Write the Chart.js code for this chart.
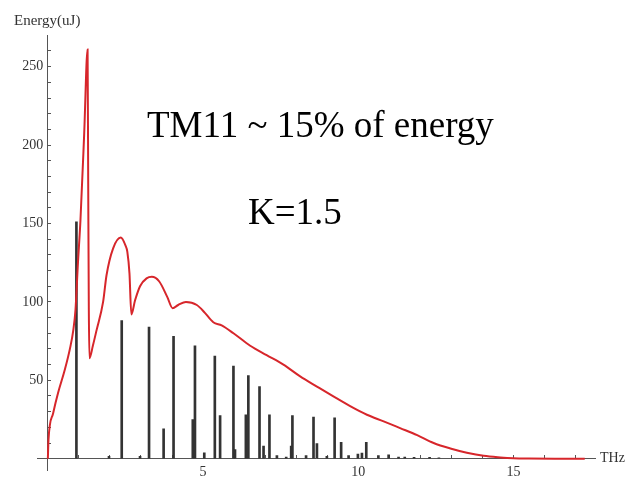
<!DOCTYPE html>
<html>
<head>
<meta charset="utf-8">
<script src="https://cdn.jsdelivr.net/npm/chart.js@4/dist/chart.umd.min.js"></script>
<style>
html,body{margin:0;padding:0;background:#fff;}
#wrap{position:relative;width:626px;height:485px;}
</style>
</head>
<body>
<div id="wrap"><canvas id="c" width="626" height="485"></canvas></div>
<script>
// Red curve: total energy spectrum (THz, uJ)
const curveFreq = [0, 0.02, 0.17, 0.33, 0.55, 0.71, 0.82, 0.89, 0.97, 1.05, 1.17, 1.28, 1.30, 1.32, 1.34, 1.45, 1.57, 1.78, 1.89, 2.1, 2.35, 2.5, 2.56, 2.63, 2.69, 2.81, 2.97, 3.18, 3.35, 3.59, 3.85, 4.02, 4.2, 4.45, 4.8, 5.06, 5.33, 5.6, 5.98, 6.52, 7.05, 7.59, 8.13, 8.67, 9.2, 9.74, 10.28, 10.82, 11.35, 11.9, 12.43, 12.97, 13.5, 14.04, 14.58, 15, 15.5, 16.5, 17.3];
const curveEnergy = [0, 12, 29, 42, 57, 70, 82, 95, 125, 152, 207, 261, 175, 95, 64, 72, 82, 100, 117, 134, 141, 136, 132, 118, 92, 101, 110, 115, 116, 113, 103, 96, 98, 100, 98, 93, 87, 85, 80, 72, 66, 60, 52.5, 46, 39.7, 33.5, 28, 23.8, 19.5, 15, 10, 6.5, 3.8, 1.8, 0.8, 0.3, 0.1, 0, 0];

// Black lines: TM11 mode energies
const barFreq = [0.92, 1.97, 2.38, 2.97, 3.26, 3.73, 4.05, 4.67, 4.74, 5.04, 5.38, 5.55, 5.98, 6.03, 6.38, 6.46, 6.82, 6.95, 7.14, 7.38, 7.68, 7.84, 7.88, 8.32, 8.56, 8.67, 8.99, 9.24, 9.45, 9.69, 9.99, 10.12, 10.26, 10.65, 10.98, 11.3, 11.5, 11.8, 12.3, 12.6];
const barEnergy = [151, 1.5, 88, 1.5, 84, 19, 78, 25, 72, 3.7, 65.5, 27.5, 59, 5.8, 28, 53, 46, 8, 28, 2, 1, 8, 27.5, 2, 26.5, 9.7, 1.5, 26, 10.5, 2, 3, 3.5, 10.5, 2, 2.5, 1, 1, 0.8, 0.8, 0.6];

const xLabels = [5, 10, 15];
const yLabels = [50, 100, 150, 200, 250];
const annotations = ['TM11 ~ 15% of energy', 'K=1.5'];
const axisTitles = ['Energy(uJ)', 'THz'];

const serif = '"Liberation Serif", "Times New Roman", serif';
Chart.defaults.font.family = serif;

const textPlugin = {
  id: 'texts',
  afterDraw(chart) {
    const ctx = chart.ctx;
    ctx.save();
    ctx.fillStyle = '#000';
    ctx.textBaseline = 'alphabetic';
    ctx.textAlign = 'left';
    ctx.font = '37px ' + serif;
    ctx.fillText(annotations[0], 147, 137);
    ctx.fillText(annotations[1], 248, 224);
    ctx.fillStyle = '#333';
    ctx.font = '15px ' + serif;
    ctx.textBaseline = 'middle';
    ctx.fillText(axisTitles[0], 14, 21);
    const xs = chart.scales.x, ys = chart.scales.y;
    ctx.font = '14px ' + serif;
    ctx.fillText(axisTitles[1], xs.right + 5, ys.getPixelForValue(0));
    ctx.restore();
  }
};

new Chart(document.getElementById('c'), {
  type: 'bar',
  data: {
    datasets: [
      {
        type: 'line',
        data: curveFreq.map((f, i) => ({x: f, y: curveEnergy[i]})),
        borderColor: '#d7262b',
        borderWidth: 2,
        pointRadius: 0,
        cubicInterpolationMode: 'monotone',
        fill: false
      },
      {
        type: 'bar',
        data: barFreq.map((f, i) => ({x: f, y: barEnergy[i]})),
        backgroundColor: '#333',
        borderWidth: 0,
        barThickness: 2
      }
    ]
  },
  options: {
    responsive: false,
    animation: false,
    layout: {padding: {left: 37, right: 31, top: 35, bottom: 10}},
    plugins: {legend: {display: false}, tooltip: {enabled: false}},
    scales: {
      x: {
        type: 'linear',
        position: {y: 0},
        offset: false,
        min: -0.35,
        max: 17.63,
        grid: {
          offset: false,
          drawOnChartArea: false,
          tickLength: -4,
          tickColor: (c) => (c.tick && c.tick.value > 0) ? '#555' : 'rgba(0,0,0,0)'
        },
        border: {color: '#555', width: 1},
        ticks: {
          stepSize: 1,
          autoSkip: false,
          includeBounds: false,
          maxRotation: 0,
          padding: 9,
          color: '#333',
          font: {size: 14, family: serif},
          callback: (v) => xLabels.includes(Math.round(v * 1000) / 1000) ? String(Math.round(v)) : ''
        }
      },
      y: {
        type: 'linear',
        position: {x: 0},
        min: -7.6,
        max: 270.2,
        grid: {
          drawOnChartArea: false,
          tickLength: -4,
          tickColor: (c) => (c.tick && c.tick.value > 0 && c.tick.value < 270) ? '#555' : 'rgba(0,0,0,0)'
        },
        border: {color: '#555', width: 1},
        ticks: {
          stepSize: 10,
          autoSkip: false,
          includeBounds: false,
          padding: 6,
          color: '#333',
          font: {size: 14, family: serif},
          callback: (v) => yLabels.includes(v) ? String(v) + '\u2004' : ''
        }
      }
    }
  },
  plugins: [textPlugin]
});
</script>
</body>
</html>
